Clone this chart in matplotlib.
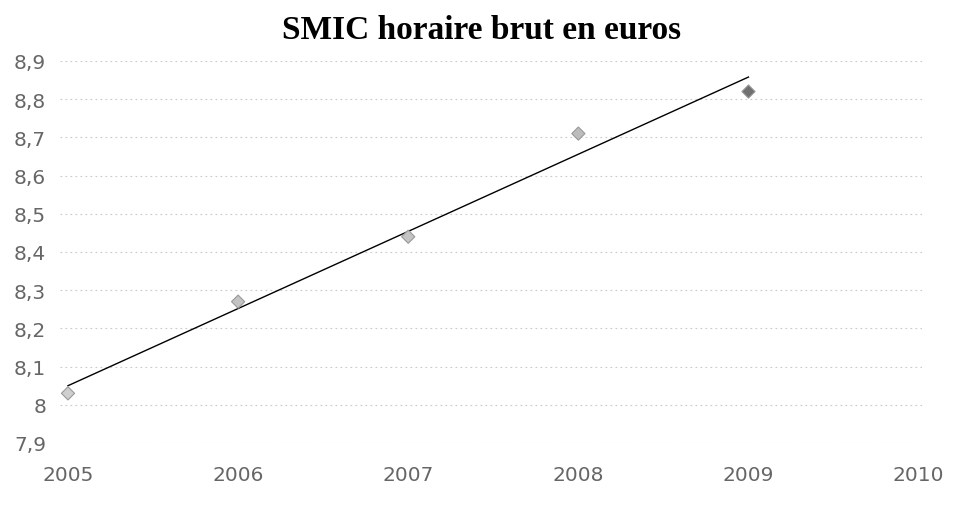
import numpy as np
import matplotlib
matplotlib.use("Agg")
import matplotlib.pyplot as plt
from matplotlib.ticker import FuncFormatter

# SMIC horaire brut (euros)
annees = [2005, 2006, 2007, 2008, 2009]
smic = [8.03, 8.27, 8.44, 8.71, 8.82]
x_ticks = [2005, 2006, 2007, 2008, 2009, 2010]
y_ticks = [7.9, 8.0, 8.1, 8.2, 8.3, 8.4, 8.5, 8.6, 8.7, 8.8, 8.9]
marker_colors = ["#cfcfcf", "#c4c4c4", "#c4c4c4", "#bcbcbc", "#707070"]

fig = plt.figure(figsize=(9.76, 5.06), dpi=100)
ax = fig.add_axes([60 / 976, 1 - 444 / 506, 862 / 976, 382 / 506])

# courbe de tendance linéaire
pente, origine = np.polyfit(annees, smic, 1)
xt = np.array([annees[0], annees[-1]])
ax.plot(xt, pente * xt + origine, color="black", lw=1.0, zorder=3)

ax.scatter(annees, smic, marker="D", s=45, c=marker_colors,
           edgecolors="#999999", linewidths=0.8, zorder=4)

ax.set_xlim(2004.953, 2010.02)
ax.set_ylim(7.9, 8.9)
ax.set_xticks(x_ticks)
ax.set_yticks(y_ticks)
ax.yaxis.set_major_formatter(FuncFormatter(
    lambda v, p: ("%g" % round(v, 1)).replace(".", ",")))

ax.grid(axis="y", color="#c8c8c8", linestyle=(0, (1.5, 3)), linewidth=0.8)
ax.set_axisbelow(True)
for s in ax.spines.values():
    s.set_visible(False)
ax.tick_params(length=0, labelsize=14.5, labelcolor="#666666")
ax.tick_params(axis="x", pad=16)
ax.tick_params(axis="y", pad=10)

fig.text(0.493, 0.94, "SMIC horaire brut en euros", ha="center", va="center",
         fontsize=24, fontweight="bold", family="Liberation Serif")

fig.savefig("out.png", dpi=100)
